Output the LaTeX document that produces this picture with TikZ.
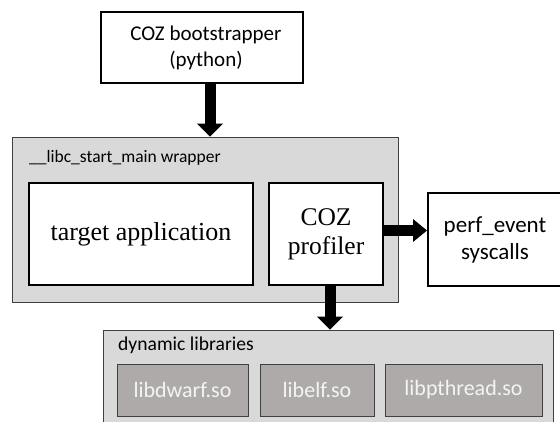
\documentclass[tikz,border=0pt]{standalone}
\usepackage{fontspec}
\setmainfont{Carlito}
\newfontfamily\serifb{Liberation Serif}
\usetikzlibrary{arrows.meta}
\definecolor{panel}{HTML}{D9D9D9}
\definecolor{panelline}{HTML}{404040}
\definecolor{libfill}{HTML}{AEAAAA}
\definecolor{libtext}{HTML}{F4F4F4}
\tikzset{
  blackbox/.style={draw=black, line width=2pt, fill=white, inner sep=0pt, align=center},
  panelbox/.style={draw=panelline, line width=1pt, fill=panel, inner sep=0pt},
  libbox/.style={draw=panelline, line width=1pt, fill=libfill, inner sep=0pt, minimum height=52pt,
     text=libtext, font=\fontsize{22}{26}\selectfont},
  blockarrow/.style={line width=11pt, -{Triangle[length=13pt,width=26pt,line width=0pt]}},
}
\begin{document}
\begin{tikzpicture}[x=1pt,y=-1pt]
\useasboundingbox (0,0) rectangle (560,421);
% boxes
\node[blackbox, minimum width=202pt, minimum height=71pt, font=\fontsize{21}{26}\selectfont] (boot) at (202,47.5) {\hspace*{8pt}COZ bootstrapper\\\hspace*{8pt}(python)};
\node[panelbox, minimum width=386pt, minimum height=165pt] (wrap) at (205,219.5) {};
\node[anchor=west, inner sep=0pt, font=\fontsize{17.5}{22}\selectfont] (wraplabel) at (29,158) {\_\_libc\_start\_main wrapper};
\node[blackbox, minimum width=224pt, minimum height=102pt, font=\serifb\fontsize{26}{29}\selectfont] (target) at (141,234) {target application};
\node[blackbox, minimum width=114pt, minimum height=102pt, font=\serifb\fontsize{25.5}{29}\selectfont] (prof) at (326,234) {COZ\\profiler};
\node[blackbox, minimum width=134pt, minimum height=93pt, font=\fontsize{23}{27}\selectfont] (perf) at (495,239.5) {perf\_event\\syscalls};
\node[panelbox, minimum width=450pt, minimum height=120pt] (dyn) at (328,390) {};
\node[anchor=west, inner sep=0pt, font=\fontsize{19.6}{22}\selectfont] (dynlabel) at (118,345) {dynamic libraries};
\node[libbox, minimum width=131pt] (dwarf) at (182.5,390) {libdwarf.so};
\node[libbox, minimum width=114pt] (elf) at (317,390) {libelf.so};
\node[libbox, minimum width=157pt] (pthread) at (463.5,390) {libpthread.so};
% arrows
\coordinate (a1) at (210,0);
\coordinate (a2) at (0,230.5);
\coordinate (a3) at (330,0);
\draw[blockarrow] (boot.south -| a1) -- (wrap.north -| a1);
\draw[blockarrow, -{Triangle[length=14pt,width=23pt,line width=0pt]}] (prof.east |- a2) -- (perf.west |- a2);
\draw[blockarrow] (prof.south -| a3) -- (dyn.north -| a3);
\end{tikzpicture}
\end{document}
